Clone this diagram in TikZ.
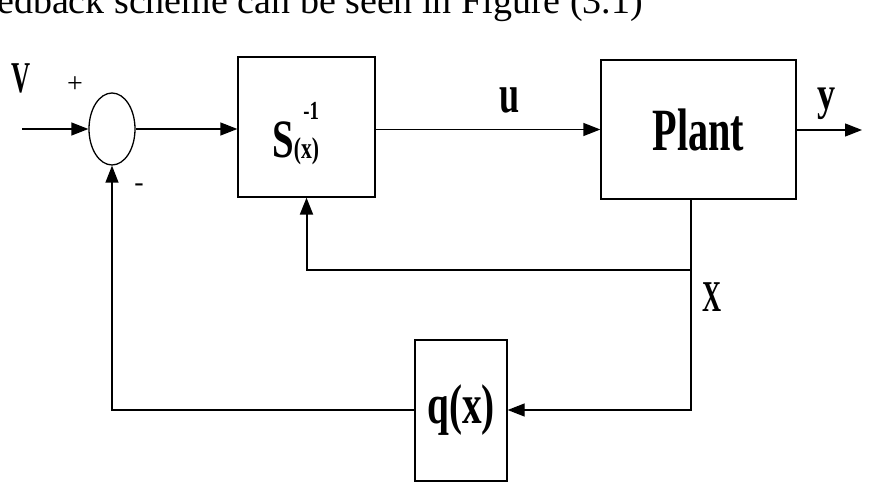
\documentclass[tikz,border=0pt]{standalone}
\usepackage{fontspec}
\setmainfont{Liberation Serif}
\usepackage{graphicx}
\usetikzlibrary{arrows.meta,positioning,shapes.geometric}
% condensed bold label: [x-scale]{size}{text}
\newcommand{\cond}[3][0.68]{\scalebox{#1}[1]{\fontsize{#2}{#2}\selectfont\bfseries #3}}

\begin{document}
\begin{tikzpicture}[
  x=1pt,y=-1pt,
  >={Triangle[length=17pt,width=13pt]},
  blk/.style={draw, line width=1.3pt, inner sep=0pt},
  flow/.style={->, line width=1.3pt},
  fb/.style={->, line width=2pt},
  tag/.style={inner sep=0pt},
]
\useasboundingbox (0,0) rectangle (880,494);
\clip (0,0) rectangle (880,494);

%% ---------- caption line (cut off at top) ----------
\node[tag, anchor=base west, font=\fontsize{38}{38}\selectfont] (cap) at (-3,14)
  {edback scheme can be seen in Figure (3.1)};

%% ---------- forward path ----------
\coordinate (vin) at (22,129);
\node[blk, ellipse, minimum width=46pt, minimum height=72pt] (sum) at (112,129) {};
\node[blk, minimum width=137pt, minimum height=140pt] (sinv) at (306.5,127) {};
\node[tag, anchor=base west] (sinvlbl) at (272,158)
  {\cond[0.72]{54}{S\raisebox{-1pt}{\fontsize{30}{30}\selectfont(x)}\llap{\raisebox{38pt}{\fontsize{26}{26}\selectfont -1}}}};
\node[blk, minimum width=195pt, minimum height=139pt] (plant) at (698.5,129.5)
  {\raisebox{-2pt}{\cond[0.67]{60}{Plant}}};
\coordinate (yout) at (862,130);

\node[tag] (vlbl)  at (21,78)  {\cond[0.6]{44}{V}};
\node[tag] (plus)  at (75,85)  {\fontsize{28}{28}\selectfont +};
\node[tag] (minus) at (139,188) {\fontsize{28}{28}\selectfont -};
\node[tag] (ulbl)  at (510,100) {\cond[0.67]{54}{u}};
\node[tag] (ylbl)  at (827,104) {\cond[0.77]{47}{y}};

\draw[flow] (vin) -- (sum.west);
\draw[flow] (sum.east) -- (sinv.west |- sum.east);
\draw[flow] (sinv.east |- plant.west) -- (plant.west);
\draw[flow] (plant.east |- yout) -- (yout);

%% ---------- feedback paths ----------
\coordinate (xb) at (691,270);
\coordinate (xq) at (691,410);
\node[blk, minimum width=92pt, minimum height=141pt] (qx) at (461,410.5)
  {\raisebox{-3pt}{\cond[0.7]{56}{q(x)}}};
\node[tag] (xlbl) at (712,297) {\cond[0.6]{44}{X}};

\draw[fb] (xb |- plant.south) -- (xb) -| (sinv.south);
\draw[flow] (xb) -- (xq) -- (qx.east |- xq);
\draw[flow] (qx.west |- xq) -| (sum.south);
\end{tikzpicture}
\end{document}
